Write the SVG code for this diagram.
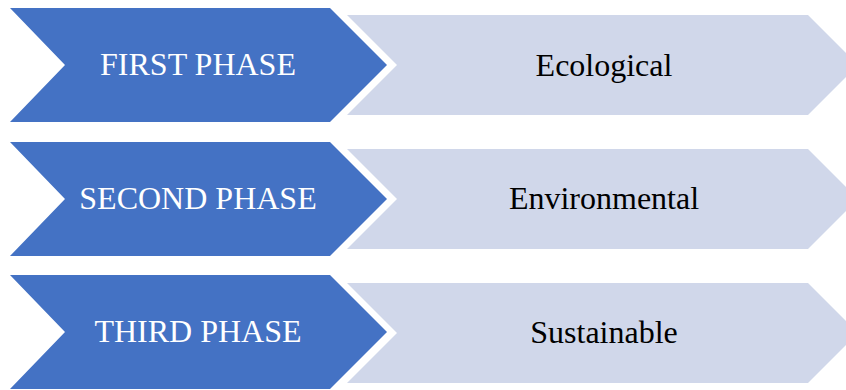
<svg xmlns="http://www.w3.org/2000/svg" width="846" height="390" viewBox="0 0 846 390">
<style>
.phase{fill:#4472C4;}
.desc{fill:#D0D7EA;}
.pt{font-family:"Liberation Serif","Times New Roman",serif;font-size:32px;fill:#FFFFFF;text-anchor:middle;}
.dt{font-family:"Liberation Serif","Times New Roman",serif;font-size:32px;fill:#000000;text-anchor:middle;}
</style>
<rect width="846" height="390" fill="#FFFFFF"/>
<g id="row1-desc">
<polygon class="desc" points="347,15 808,15 858,65 808,115 347,115 397,65"/>
<text class="dt" x="604" y="76">Ecological</text>
</g>
<g id="row1-phase">
<polygon class="phase" points="10,8 330,8 387,65 330,122 10,122 65,65"/>
<text class="pt" x="198" y="75">FIRST PHASE</text>
</g>
<g id="row2-desc">
<polygon class="desc" points="347,149 808,149 858,199 808,249 347,249 397,199"/>
<text class="dt" x="604" y="209">Environmental</text>
</g>
<g id="row2-phase">
<polygon class="phase" points="10,142 330,142 387,199 330,256 10,256 65,199"/>
<text class="pt" x="198" y="209">SECOND PHASE</text>
</g>
<g id="row3-desc">
<polygon class="desc" points="347,283 808,283 858,333 808,383 347,383 397,333"/>
<text class="dt" x="604" y="343">Sustainable</text>
</g>
<g id="row3-phase">
<polygon class="phase" points="10,275 330,275 387,332 330,389 10,389 65,332"/>
<text class="pt" x="198" y="342">THIRD PHASE</text>
</g>
<g id="connectors"></g>
</svg>
